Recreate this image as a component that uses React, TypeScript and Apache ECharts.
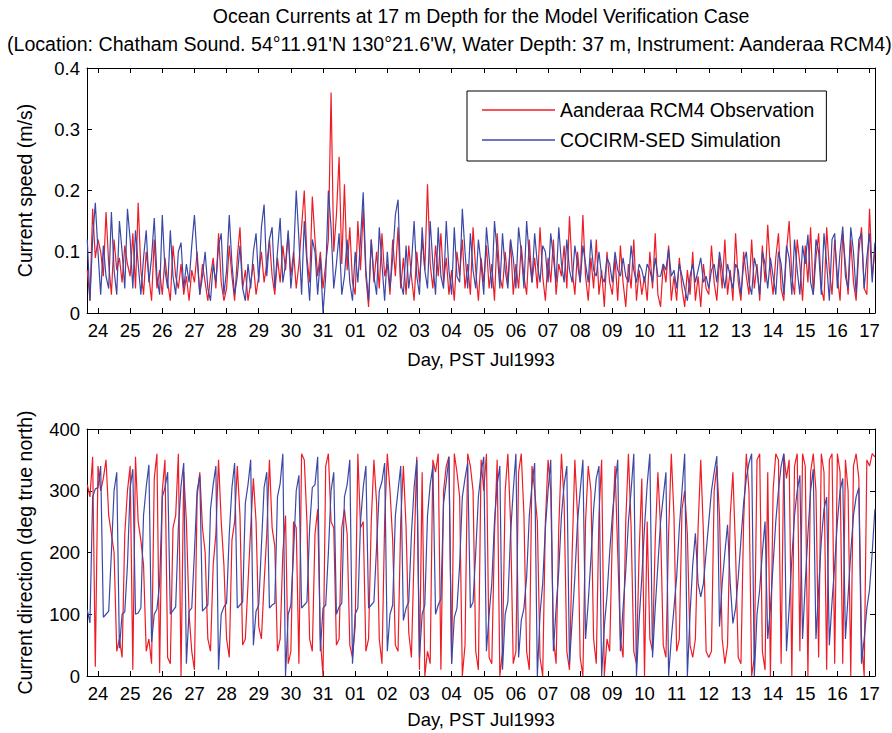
import React, { useEffect, useRef } from "react";
import * as echarts from "echarts";

// Sampling grid: first sample Jul 23 16:00 PST, every 2 hours (time in days after Jul 24 00:00)
const START_DAY = -1 / 3;
const STEP_DAY = 1 / 12;

const dayTickValues = [0, 1, 2, 3, 4, 5, 6, 7, 8, 9, 10, 11, 12, 13, 14, 15, 16, 17, 18, 19, 20, 21, 22, 23, 24];
const dayTickLabels = ["24", "25", "26", "27", "28", "29", "30", "31", "01", "02", "03", "04", "05", "06", "07", "08", "09", "10", "11", "12", "13", "14", "15", "16", "17"];
const speedTickLabels = ["0", "0.1", "0.2", "0.3", "0.4"];
const directionTickLabels = ["0", "100", "200", "300", "400"];

const OBS_NAME = "Aanderaa RCM4 Observation";
const SIM_NAME = "COCIRM-SED Simulation";

// Current speed (m/s), observation
const obsSpeed = [
  0.07, 0.02, 0.17, 0.09,
  0.12, 0.10, 0.06, 0.165, 0.08, 0.03, 0.12, 0.07, 0.09, 0.05, 0.11, 0.08,
  0.06, 0.13, 0.04, 0.18, 0.07, 0.03, 0.10, 0.06, 0.02, 0.12, 0.04, 0.07,
  0.03, 0.09, 0.05, 0.02, 0.11, 0.06, 0.04, 0.08, 0.03, 0.06, 0.02, 0.07,
  0.05, 0.10, 0.03, 0.08, 0.05, 0.02, 0.06, 0.09, 0.04, 0.13, 0.05, 0.02,
  0.04, 0.11, 0.06, 0.02, 0.09, 0.14, 0.04, 0.07, 0.02, 0.05, 0.08, 0.03,
  0.06, 0.10, 0.05, 0.08, 0.12, 0.06, 0.03, 0.09, 0.05, 0.11, 0.07, 0.13,
  0.06, 0.10, 0.04, 0.08, 0.14, 0.20, 0.09, 0.05, 0.19, 0.12, 0.06, 0.10,
  0.04, 0.08, 0.12, 0.36, 0.10, 0.16, 0.255, 0.08, 0.21, 0.07, 0.14, 0.05,
  0.03, 0.15, 0.07, 0.17, 0.06, 0.01, 0.12, 0.05, 0.10, 0.04, 0.13, 0.06,
  0.08, 0.03, 0.12, 0.06, 0.14, 0.04, 0.09, 0.03, 0.11, 0.06, 0.02, 0.10,
  0.05, 0.12, 0.07, 0.21, 0.08, 0.04, 0.11, 0.06, 0.13, 0.05, 0.09, 0.03,
  0.07, 0.02, 0.10, 0.06, 0.12, 0.04, 0.08, 0.03, 0.14, 0.07, 0.02, 0.09,
  0.05, 0.11, 0.04, 0.08, 0.02, 0.13, 0.06, 0.04, 0.10, 0.05, 0.12, 0.03,
  0.08, 0.04, 0.11, 0.06, 0.03, 0.12, 0.05, 0.09, 0.04, 0.14, 0.06, 0.02,
  0.09, 0.05, 0.12, 0.03, 0.08, 0.06, 0.11, 0.04, 0.158, 0.07, 0.03, 0.10,
  0.05, 0.16, 0.06, 0.02, 0.09, 0.04, 0.12, 0.03, 0.07, 0.01, 0.10, 0.05,
  0.03, 0.09, 0.02, 0.11, 0.05, 0.01, 0.08, 0.04, 0.12, 0.02, 0.07, 0.03,
  0.06, 0.02, 0.10, 0.04, 0.13, 0.03, 0.01, 0.08, 0.05, 0.11, 0.02, 0.06,
  0.02, 0.09, 0.04, 0.01, 0.07, 0.03, 0.10, 0.02, 0.06, 0.01, 0.08, 0.04,
  0.03, 0.11, 0.05, 0.02, 0.09, 0.04, 0.12, 0.03, 0.07, 0.02, 0.13, 0.05,
  0.02, 0.10, 0.06, 0.03, 0.12, 0.04, 0.08, 0.02, 0.11, 0.05, 0.144, 0.07,
  0.03, 0.09, 0.13, 0.04, 0.02, 0.10, 0.15, 0.06, 0.03, 0.12, 0.08, 0.02,
  0.11, 0.05, 0.14, 0.03, 0.09, 0.13, 0.04, 0.02, 0.14, 0.07, 0.03, 0.12,
  0.06, 0.02, 0.13, 0.08, 0.03, 0.12, 0.05, 0.02, 0.10, 0.14, 0.04, 0.03,
  0.17, 0.06, 0.10,
];

// Current speed (m/s), simulation
const simSpeed = [
  0.12, 0.02, 0.12, 0.18,
  0.10, 0.03, 0.11, 0.06, 0.04, 0.165, 0.07, 0.03, 0.15, 0.10, 0.04, 0.17,
  0.12, 0.04, 0.135, 0.08, 0.03, 0.09, 0.135, 0.05, 0.09, 0.155, 0.06, 0.03,
  0.16, 0.07, 0.04, 0.135, 0.06, 0.03, 0.10, 0.115, 0.04, 0.08, 0.05, 0.11,
  0.16, 0.09, 0.03, 0.06, 0.10, 0.04, 0.02, 0.08, 0.05, 0.11, 0.13, 0.03,
  0.07, 0.16, 0.08, 0.03, 0.06, 0.11, 0.04, 0.02, 0.08, 0.04, 0.10, 0.13,
  0.05, 0.14, 0.177, 0.06, 0.12, 0.14, 0.04, 0.10, 0.155, 0.05, 0.08, 0.135,
  0.04, 0.09, 0.20, 0.12, 0.03, 0.15, 0.08, 0.02, 0.12, 0.10, 0.03, 0.09,
  0.00, 0.06, 0.20, 0.14, 0.04, 0.08, 0.13, 0.03, 0.06, 0.12, 0.05, 0.02,
  0.10, 0.05, 0.12, 0.197, 0.07, 0.02, 0.12, 0.06, 0.03, 0.14, 0.08, 0.02,
  0.10, 0.04, 0.09, 0.16, 0.185, 0.05, 0.03, 0.11, 0.04, 0.08, 0.15, 0.06,
  0.03, 0.14, 0.07, 0.04, 0.15, 0.08, 0.03, 0.14, 0.06, 0.04, 0.15, 0.07,
  0.03, 0.14, 0.06, 0.05, 0.17, 0.10, 0.04, 0.13, 0.07, 0.04, 0.12, 0.08,
  0.03, 0.14, 0.09, 0.04, 0.15, 0.10, 0.04, 0.13, 0.07, 0.04, 0.12, 0.09,
  0.04, 0.14, 0.10, 0.04, 0.15, 0.09, 0.05, 0.13, 0.08, 0.05, 0.11, 0.10,
  0.05, 0.13, 0.09, 0.05, 0.14, 0.08, 0.05, 0.12, 0.07, 0.05, 0.11, 0.08,
  0.05, 0.11, 0.08, 0.05, 0.12, 0.07, 0.06, 0.10, 0.06, 0.05, 0.09, 0.08,
  0.05, 0.10, 0.07, 0.06, 0.09, 0.06, 0.05, 0.11, 0.07, 0.05, 0.08, 0.07,
  0.05, 0.08, 0.07, 0.05, 0.09, 0.06, 0.06, 0.08, 0.07, 0.105, 0.06, 0.07,
  0.04, 0.08, 0.06, 0.04, 0.02, 0.06, 0.08, 0.05, 0.07, 0.09, 0.05, 0.06,
  0.04, 0.07, 0.08, 0.05, 0.10, 0.07, 0.04, 0.08, 0.06, 0.04, 0.08, 0.07,
  0.03, 0.08, 0.10, 0.05, 0.03, 0.09, 0.07, 0.03, 0.10, 0.08, 0.04, 0.09,
  0.06, 0.03, 0.10, 0.08, 0.03, 0.11, 0.09, 0.03, 0.12, 0.07, 0.03, 0.11,
  0.08, 0.128, 0.05, 0.03, 0.12, 0.10, 0.03, 0.13, 0.08, 0.02, 0.12, 0.13,
  0.04, 0.10, 0.141, 0.06, 0.04, 0.14, 0.10, 0.03, 0.12, 0.13, 0.04, 0.09,
  0.13, 0.05, 0.115,
];

// Current direction (deg true north), observation
const obsDir = [
  310, 290, 355, 15,
  340, 300, 320, 350, 260, 230, 200, 40, 60, 30, 230, 300,
  340, 10, 355, 250, 220, 180, 40, 60, 20, 320, 360, 5,
  300, 350, 30, 20, 240, 260, 360, 0, 330, 250, 100, 40,
  10, 290, 330, 240, 200, 60, 40, 180, 230, 350, 250, 180,
  60, 30, 220, 250, 340, 260, 50, 60, 150, 240, 320, 250,
  80, 60, 150, 230, 350, 240, 210, 40, 60, 200, 260, 20,
  40, 250, 240, 20, 360, 350, 250, 60, 40, 230, 270, 60,
  0, 340, 360, 250, 240, 50, 60, 240, 270, 230, 50, 30,
  80, 360, 240, 250, 40, 60, 250, 350, 280, 60, 20, 250,
  360, 300, 220, 50, 40, 250, 340, 240, 70, 30, 200, 355,
  10, 330, 0, 40, 20, 350, 330, 360, 10, 300, 340, 355,
  20, 360, 330, 290, 0, 50, 360, 340, 300, 40, 10, 350,
  300, 360, 30, 20, 230, 350, 0, 40, 300, 360, 250, 20,
  40, 330, 360, 260, 40, 10, 340, 300, 250, 30, 0, 250,
  350, 300, 60, 20, 240, 360, 280, 40, 10, 200, 350, 260,
  30, 0, 250, 340, 300, 60, 20, 260, 350, 0, 60, 40,
  230, 340, 200, 60, 30, 250, 360, 240, 40, 20, 200, 320,
  0, 250, 60, 40, 220, 330, 240, 50, 30, 230, 360, 260,
  40, 60, 270, 300, 230, 50, 30, 60, 240, 350, 230, 40,
  30, 40, 300, 340, 260, 60, 20, 50, 260, 330, 200, 30,
  20, 250, 360, 300, 0, 30, 350, 360, 40, 10, 330, 0,
  300, 360, 350, 20, 360, 320, 350, 0, 340, 360, 40, 360,
  340, 0, 330, 360, 300, 30, 360, 330, 10, 350, 360, 20,
  360, 330, 20, 350, 300, 0, 340, 360, 320, 60, 0, 350,
  340, 360, 355,
];

// Current direction (deg true north), simulation
const simDir = [
  107, 86, 290, 303, 305, 340,
  95, 100, 105, 200, 300, 330,
  45, 100, 104, 180, 305, 335,
  100, 102, 110, 260, 306, 342,
  55, 100, 108, 150, 290, 305, 330,
  100, 106, 112, 240, 308, 345,
  20, 105, 110, 200, 300, 325,
  105, 110, 115, 270, 310, 340,
  10, 100, 112, 118, 230, 305, 345,
  110, 115, 120, 280, 310, 350,
  50, 105, 115, 210, 305, 330,
  110, 115, 118, 290, 312, 360,
  0, 100, 115, 200, 300, 325,
  110, 115, 120, 240, 305, 310, 355,
  40, 110, 115, 200, 300, 330,
  100, 112, 118, 290, 310, 350,
  20, 100, 110, 250, 305, 340,
  110, 115, 120, 210, 300, 315, 345,
  40, 100, 115, 260, 300, 340,
  90, 110, 120, 230, 305, 350,
  30, 100, 115, 260, 310, 340,
  100, 115, 125, 280, 315, 355,
  20, 95, 110, 180, 290, 320, 345,
  110, 120, 200, 290, 330, 355,
  40, 100, 150, 250, 310, 340,
  10, 100, 120, 230, 300, 360,
  30, 90, 110, 160, 260, 310, 345,
  0, 100, 150, 240, 300, 350,
  40, 110, 170, 260, 310, 340,
  20, 90, 160, 250, 300, 350,
  60, 120, 190, 270, 320, 340,
  0, 80, 130, 200, 260, 310, 350,
  40, 110, 170, 250, 300, 360,
  0, 90, 160, 240, 310, 360,
  30, 110, 180, 250, 290, 330,
  0, 60, 110, 160, 240, 300, 360,
  0, 100, 180, 231, 150, 128,
  150, 200, 250, 300, 330, 356,
  80, 150, 200, 245, 150, 85,
  110, 160, 220, 280, 320, 345, 360,
  0, 100, 140, 200, 250, 60,
  110, 180, 250, 300, 340, 360,
  40, 110, 190, 260, 300, 325,
  60, 150, 230, 300, 335,
  60, 140, 220, 270, 290,
  50, 120, 180, 250, 300, 320,
  60, 130, 200, 260, 290, 305,
  20, 60, 110, 140, 200, 270,
];

const RED = "#ee1c25";
const BLUE = "#3a48a8";
const FONT = "'Liberation Sans', Arial, Helvetica, sans-serif";
const X_MIN = -0.342;
const X_MAX = 24.17;

const toPairs = (values: number[]) => values.map((v, i) => [START_DAY + i * STEP_DAY, v]);

function xAxis(gridIndex: number, position: "top" | "bottom", withLabels: boolean, nameGap: number) {
  return {
    type: "value",
    gridIndex,
    position,
    min: X_MIN,
    max: X_MAX,
    axisLine: { show: true, onZero: false, lineStyle: { color: "#000", width: 1 } },
    axisTick: { show: true, inside: true, length: 5, customValues: dayTickValues, lineStyle: { color: "#000", width: 1 } },
    axisLabel: {
      show: withLabels,
      customValues: dayTickValues,
      formatter: (v: number) => dayTickLabels[Math.round(v)] ?? "",
      fontFamily: FONT,
      fontSize: 18.5,
      color: "#000",
      margin: 8,
    },
    splitLine: { show: false },
    name: withLabels ? "Day, PST Jul1993" : "",
    nameLocation: "middle",
    nameGap,
    nameMoveOverlap: false,
    nameTextStyle: { fontFamily: FONT, fontSize: 18.5, color: "#000" },
  };
}

function yAxis(gridIndex: number, position: "left" | "right", max: number, interval: number, labels: string[], name: string) {
  const left = position === "left";
  return {
    type: "value",
    gridIndex,
    position,
    min: 0,
    max,
    interval,
    axisLine: { show: true, onZero: false, lineStyle: { color: "#000", width: 1 } },
    axisTick: { show: true, inside: true, length: 5, lineStyle: { color: "#000", width: 1 } },
    axisLabel: {
      show: left,
      formatter: (v: number) => labels[Math.round(v / interval)] ?? "",
      fontFamily: FONT,
      fontSize: 18.5,
      color: "#000",
      margin: 7,
    },
    splitLine: { show: false },
    name: left ? name : "",
    nameLocation: "middle",
    nameGap: 52,
    nameRotate: 90,
    nameMoveOverlap: false,
    nameTextStyle: { fontFamily: FONT, fontSize: 19.5, color: "#000" },
  };
}

function line(name: string, color: string, data: number[], xi: number, yi: number, z: number) {
  return {
    name,
    type: "line",
    xAxisIndex: xi,
    yAxisIndex: yi,
    data: toPairs(data),
    symbol: "none",
    showSymbol: false,
    clip: true,
    silent: true,
    z,
    lineStyle: { color, width: 1.2 },
    itemStyle: { color },
    emphasis: { disabled: true },
  };
}

export default function App() {
  const ref = useRef<HTMLDivElement>(null);

  useEffect(() => {
    if (!ref.current) return;
    const chart = echarts.init(ref.current, undefined, { renderer: "svg" });
    chart.setOption({
      animation: false,
      backgroundColor: "#fff",
      title: [
        {
          text: "Ocean Currents at 17 m Depth for the Model Verification Case",
          left: 481,
          top: 4,
          textAlign: "center",
          padding: 0,
          textStyle: { fontFamily: FONT, fontSize: 19.5, fontWeight: "normal", color: "#000", lineHeight: 24 },
        },
        {
          text: "(Location: Chatham Sound. 54°11.91'N 130°21.6'W, Water Depth: 37 m, Instrument: Aanderaa RCM4)",
          left: 7,
          top: 32,
          padding: 0,
          textStyle: { fontFamily: FONT, fontSize: 19.6, fontWeight: "normal", color: "#000", lineHeight: 24 },
        },
      ],
      legend: {
        data: [OBS_NAME, SIM_NAME],
        orient: "vertical",
        left: 467,
        top: 91,
        padding: [8, 12, 10, 15],
        itemGap: 8,
        itemWidth: 73,
        itemHeight: 1.5,
        icon: "rect",
        selectedMode: false,
        backgroundColor: "#fff",
        borderColor: "#000",
        borderWidth: 1,
        borderRadius: 0,
        textStyle: { fontFamily: FONT, fontSize: 19.4, color: "#000", lineHeight: 22 },
      },
      grid: [
        { left: 87, top: 68, width: 788, height: 245, containLabel: false, outerBoundsMode: "none" },
        { left: 87, top: 429, width: 788, height: 247, containLabel: false, outerBoundsMode: "none" },
      ],
      xAxis: [xAxis(0, "bottom", true, 37), xAxis(0, "top", false, 0), xAxis(1, "bottom", true, 34), xAxis(1, "top", false, 0)],
      yAxis: [
        yAxis(0, "left", 0.4, 0.1, speedTickLabels, "Current speed (m/s)"),
        yAxis(0, "right", 0.4, 0.1, speedTickLabels, ""),
        yAxis(1, "left", 400, 100, directionTickLabels, "Current direction (deg true north)"),
        yAxis(1, "right", 400, 100, directionTickLabels, ""),
      ],
      series: [
        line(OBS_NAME, RED, obsSpeed, 0, 0, 2),
        line(SIM_NAME, BLUE, simSpeed, 0, 0, 3),
        line(OBS_NAME, RED, obsDir, 2, 2, 2),
        line(SIM_NAME, BLUE, simDir, 2, 2, 3),
      ],
    });
    return () => chart.dispose();
  }, []);

  return <div ref={ref} style={{ position: "absolute", left: 0, top: 0, width: 892, height: 733 }} />;
}
